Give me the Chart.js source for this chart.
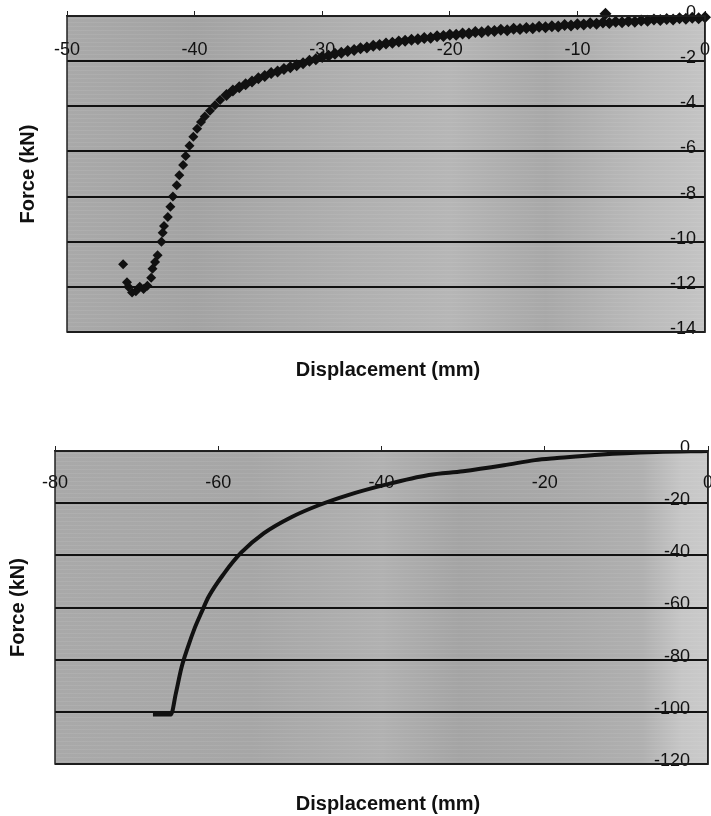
<!DOCTYPE html>
<html>
<head>
<meta charset="utf-8">
<script src="https://cdn.jsdelivr.net/npm/chart.js@4.4.1/dist/chart.umd.min.js"></script>
<style>
  html, body { margin: 0; padding: 0; background: #fff; overflow: hidden; }
  #topBox { position: absolute; left: 0; top: 0; width: 711px; height: 420px; }
  #botBox { position: absolute; left: 0; top: 420px; width: 711px; height: 396px; }
</style>
</head>
<body>
<div id="topBox"><canvas id="topChart"></canvas></div>
<div id="botBox"><canvas id="botChart"></canvas></div>
<script>
// ===================================================
// FORCE vs DISPLACEMENT – two scanned Excel-style plots
// ===================================================

// ── data: upper plot (test, scatter markers) ───────
const topDisp = [
  0, -0.5, -1, -1.5, -2, -2.5, -3, -3.5, -4, -4.5, -5, -5.5, -6, -6.5, -7, -7.5,
  -8, -8.5, -9, -9.5, -10, -10.5, -11, -11.5, -12, -12.5, -13, -13.5, -14, -14.5,
  -15, -15.5, -16, -16.5, -17, -17.5, -18, -18.5, -19, -19.5, -20, -20.5, -21, -21.5,
  -22, -22.5, -23, -23.5, -24, -24.5, -25, -25.5, -26, -26.5, -27, -27.5, -28, -28.5,
  -29, -29.5, -30, -30.5, -31, -31.5, -32, -32.5, -33, -33.5, -34, -34.5, -35, -35.5,
  -36, -36.5, -37, -37.5, -38, -38.4, -38.8, -39.2, -39.5, -39.8, -40.1, -40.4, -40.7,
  -40.9, -41.2, -41.4, -41.7, -41.9, -42.1, -42.4, -42.5, -42.6, -42.9, -43.1, -43.3,
  -43.4, -43.7, -44.0, -44.3, -44.6, -44.9, -45.2, -45.3, -45.6, -7.8
];
const topForce = [
  -0.06, -0.1, -0.08, -0.12, -0.1, -0.15, -0.13, -0.18, -0.16, -0.21, -0.2, -0.25, -0.23, -0.28, -0.26, -0.31,
  -0.29, -0.34, -0.32, -0.38, -0.37, -0.42, -0.4, -0.46, -0.45, -0.5, -0.48, -0.54, -0.53, -0.58,
  -0.57, -0.63, -0.61, -0.67, -0.66, -0.72, -0.71, -0.77, -0.77, -0.83, -0.83, -0.89, -0.9, -0.96,
  -0.97, -1.03, -1.05, -1.1, -1.13, -1.19, -1.22, -1.29, -1.32, -1.4, -1.43, -1.51, -1.55, -1.63,
  -1.67, -1.76, -1.82, -1.92, -1.98, -2.09, -2.18, -2.27, -2.35, -2.46, -2.53, -2.66, -2.76, -2.9,
  -3.02, -3.16, -3.3, -3.5, -3.72, -3.95, -4.2, -4.45, -4.7, -5.0, -5.35, -5.75, -6.2,
  -6.6, -7.05, -7.5, -8.0, -8.45, -8.9, -9.3, -9.6, -10.0, -10.6, -10.9, -11.2,
  -11.6, -11.95, -12.1, -12.0, -12.2, -12.25, -12.0, -11.8, -11.0, 0.1
];
const topXTicks = { min: -50, max: 0, step: 10 };
const topYTicks = { min: -14, max: 0, step: 2 };

// ── data: lower plot (model, solid curve) ──────────
const botDisp  = [-68, -65.8, -65.2, -64.5, -63.7, -62.9, -62, -61.2, -59.3, -57.2, -54.4,
                  -51, -47.7, -44.1, -39.6, -34.2, -30, -25, -21.2, -18.5, -13, -6.3, 0];
const botForce = [-101, -101, -93, -83, -75, -68, -61.5, -56, -47, -39, -31.5,
                  -25.3, -20.8, -16.9, -13, -9.2, -7.8, -5.5, -3.5, -2.7, -1.3, -0.4, 0];
const botXTicks = { min: -80, max: 0, step: 20 };
const botYTicks = { min: -120, max: 0, step: 20 };

const xTitle = 'Displacement (mm)';
const yTitle = 'Force (kN)';

const INK = '#111111';
const FONT = "'Liberation Sans', Arial, sans-serif";

const toPoints = (xs, ys) => xs.map((x, i) => ({ x, y: ys[i] }));

// gray scanned plot background + frame + axis titles
const plotDecor = (stops, titleY, titleX, yTitleX) => ({
  id: 'plotDecor',
  beforeDraw(chart) {
    const { ctx: c, chartArea: a } = chart;
    const g = c.createLinearGradient(a.left, 0, a.right, 0);
    stops.forEach(([p, col]) => g.addColorStop(p, col));
    c.save();
    c.fillStyle = g;
    c.fillRect(a.left, a.top, a.right - a.left, a.bottom - a.top);
    // faint horizontal scan striations
    c.fillStyle = 'rgba(255,255,255,0.07)';
    for (let y = a.top + 2; y < a.bottom; y += 4) c.fillRect(a.left, y, a.right - a.left, 1);
    c.restore();
  },
  afterDraw(chart) {
    const { ctx: c, chartArea: a } = chart;
    c.save();
    c.strokeStyle = '#222';
    c.lineWidth = 1.5;
    c.strokeRect(a.left, a.top, a.right - a.left, a.bottom - a.top);
    c.fillStyle = INK;
    c.font = `bold 20px ${FONT}`;
    c.textAlign = 'center';
    c.textBaseline = 'middle';
    c.fillText(xTitle, titleX, titleY);
    c.translate(yTitleX, (a.top + a.bottom) / 2);
    c.rotate(-Math.PI / 2);
    c.fillText(yTitle, 0, 0);
    c.restore();
  }
});

// axes sit on the plot edges and take no room of their own
const flatFit = (s) => {
  if (s.isHorizontal()) s.height = 0; else s.width = 0;
  s.paddingLeft = 0; s.paddingRight = 0; s.paddingTop = 0; s.paddingBottom = 0;
};

function makeScales(xt, yt, xPad, yPad) {
  return {
    x: {
      type: 'linear', position: 'top', min: xt.min, max: xt.max,
      ticks: { stepSize: xt.step, mirror: true, padding: xPad, autoSkip: false, maxRotation: 0,
               color: INK, font: { family: FONT, size: 18 } },
      grid: { drawOnChartArea: false, drawTicks: true, tickLength: 5, color: '#222' },
      border: { display: true, color: '#222', width: 1.5 },
      afterFit: flatFit
    },
    y: {
      type: 'linear', position: 'right', min: yt.min, max: yt.max,
      ticks: { stepSize: yt.step, mirror: true, padding: yPad, autoSkip: false, labelOffset: -3,
               color: INK, font: { family: FONT, size: 18 } },
      grid: { color: INK, lineWidth: 2, drawTicks: false },
      border: { display: true, color: '#222', width: 1.5 },
      afterFit: flatFit
    }
  };
}

// ── 1. Upper plot (scatter diamonds) ──────────────
function initTopChart() {
  return new Chart(document.getElementById('topChart'), {
    type: 'scatter',
    data: {
      datasets: [{
        data: toPoints(topDisp, topForce),
        pointStyle: 'rectRot',
        pointRadius: ctx => (ctx.raw && ctx.raw.x > -37.6 ? 6 : 5),
        pointBackgroundColor: INK,
        pointBorderColor: INK,
        pointBorderWidth: 0,
        showLine: false,
        clip: false
      }]
    },
    options: {
      responsive: true, maintainAspectRatio: false, animation: false,
      layout: { padding: { left: 67, top: 16, right: 4, bottom: 88 } },
      plugins: { legend: { display: false }, tooltip: { enabled: false } },
      scales: makeScales(topXTicks, topYTicks, 23, -9)
    },
    plugins: [plotDecor([
      [0, '#a9a9a9'], [0.2, '#a3a3a3'], [0.45, '#b0b0b0'], [0.6, '#b6b6b6'],
      [0.75, '#a8a8a8'], [0.9, '#bababa'], [1, '#c4c4c4']
    ], 370, 388, 28)]
  });
}

// ── 2. Lower plot (solid curve) ───────────────────
function initBotChart() {
  return new Chart(document.getElementById('botChart'), {
    type: 'scatter',
    data: {
      datasets: [{
        data: toPoints(botDisp, botForce),
        showLine: true,
        borderColor: INK,
        borderWidth: 4,
        pointRadius: 0,
        cubicInterpolationMode: 'monotone'
      }]
    },
    options: {
      responsive: true, maintainAspectRatio: false, animation: false,
      layout: { padding: { left: 55, top: 31, right: 3, bottom: 52 } },
      plugins: { legend: { display: false }, tooltip: { enabled: false } },
      scales: makeScales(botXTicks, botYTicks, 21, -18)
    },
    plugins: [plotDecor([
      [0, '#a9a9a9'], [0.3, '#a6a6a6'], [0.5, '#b1b1b1'], [0.62, '#a4a4a4'],
      [0.78, '#a9a9a9'], [0.9, '#b0b0b0'], [0.96, '#c6c6c6'], [1, '#cacaca']
    ], 384, 388, 18)]
  });
}

initTopChart();
initBotChart();
</script>
</body>
</html>
